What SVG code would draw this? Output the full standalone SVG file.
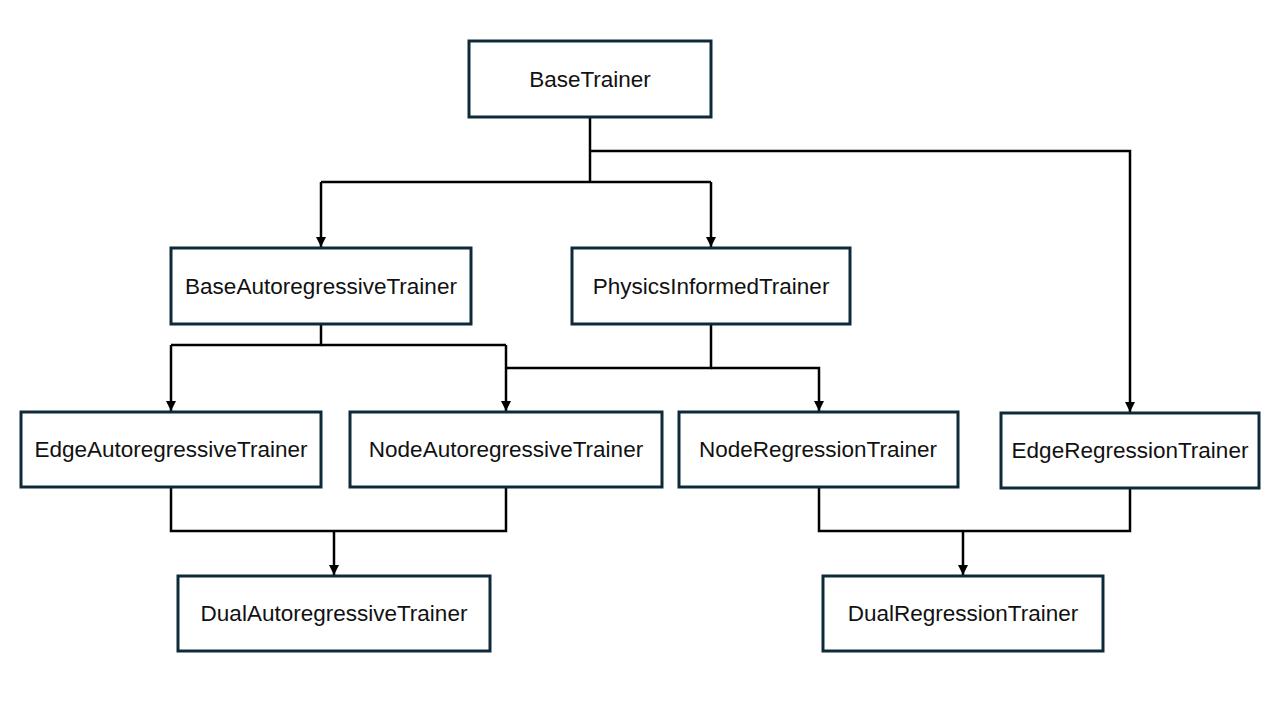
<svg xmlns="http://www.w3.org/2000/svg" width="1280" height="720" viewBox="0 0 1280 720">
<style>
.box{fill:#fff;stroke:#0e2a38;stroke-width:3}
.lbl{font-family:"Liberation Sans",Arial,sans-serif;font-size:22.5px;fill:#111;text-anchor:middle}
.ln{fill:none;stroke:#000;stroke-width:2.5}
</style>
<defs>
<marker id="ah" viewBox="0 0 10 10" refX="10" refY="5" markerWidth="4" markerHeight="4" orient="auto" markerUnits="strokeWidth">
<path d="M0,0 L10,5 L0,10 z" fill="#000"/>
</marker>
</defs>
<rect width="1280" height="720" fill="#fff"/>
<g id="connectors">
<path class="ln" d="M590,117 V182"/>
<path class="ln" d="M321,182 H711"/>
<path class="ln" d="M321,182 V247" marker-end="url(#ah)"/>
<path class="ln" d="M711,182 V247" marker-end="url(#ah)"/>
<path class="ln" d="M590,151 H1130 V412" marker-end="url(#ah)"/>
<path class="ln" d="M321,324 V345 H171"/>
<path class="ln" d="M321,345 H506"/>
<path class="ln" d="M171,345 V411" marker-end="url(#ah)"/>
<path class="ln" d="M506,345 V411" marker-end="url(#ah)"/>
<path class="ln" d="M711,324 V368 H506"/>
<path class="ln" d="M711,368 H819 V411" marker-end="url(#ah)"/>
<path class="ln" d="M171,487 V531 H506 V487"/>
<path class="ln" d="M334,531 V575" marker-end="url(#ah)"/>
<path class="ln" d="M819,487 V531 H1130 V488"/>
<path class="ln" d="M963,531 V575" marker-end="url(#ah)"/>
</g>
<g id="BaseTrainer"><rect class="box" x="469" y="41" width="242" height="76"/><text class="lbl" x="590" y="87">BaseTrainer</text></g>
<g id="BaseAutoregressiveTrainer"><rect class="box" x="171" y="248" width="300" height="76"/><text class="lbl" x="321" y="294">BaseAutoregressiveTrainer</text></g>
<g id="PhysicsInformedTrainer"><rect class="box" x="572" y="248" width="278" height="76"/><text class="lbl" x="711" y="294">PhysicsInformedTrainer</text></g>
<g id="EdgeAutoregressiveTrainer"><rect class="box" x="21" y="412" width="300" height="75"/><text class="lbl" x="171" y="457">EdgeAutoregressiveTrainer</text></g>
<g id="NodeAutoregressiveTrainer"><rect class="box" x="350" y="412" width="312" height="75"/><text class="lbl" x="506" y="457">NodeAutoregressiveTrainer</text></g>
<g id="NodeRegressionTrainer"><rect class="box" x="679" y="412" width="279" height="75"/><text class="lbl" x="818" y="457">NodeRegressionTrainer</text></g>
<g id="EdgeRegressionTrainer"><rect class="box" x="1001" y="413" width="258" height="75"/><text class="lbl" x="1130" y="458">EdgeRegressionTrainer</text></g>
<g id="DualAutoregressiveTrainer"><rect class="box" x="178" y="576" width="312" height="75"/><text class="lbl" x="334" y="621">DualAutoregressiveTrainer</text></g>
<g id="DualRegressionTrainer"><rect class="box" x="823" y="576" width="280" height="75"/><text class="lbl" x="963" y="621">DualRegressionTrainer</text></g>
</svg>
